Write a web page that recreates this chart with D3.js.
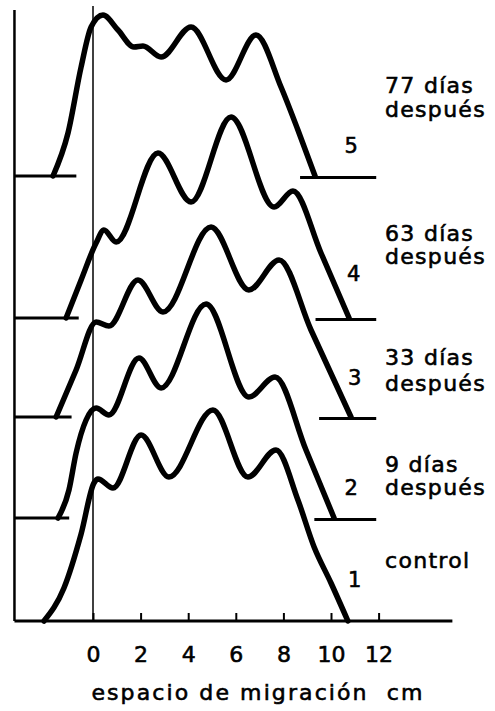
<!DOCTYPE html>
<html>
<head>
<meta charset="utf-8">
<title>espacio de migración</title>
<style>
  body { margin: 0; background: #fff; }
  svg text { font-family: "DejaVu Sans", sans-serif; fill: #000; stroke: #000; stroke-width: 0.6px; }
  .curve { fill: none; stroke: #000; stroke-width: 5.5; stroke-linejoin: round; stroke-linecap: round; }
  .base { stroke: #000; stroke-width: 3; }
  .tick text { font-size: 22px; }
</style>
</head>
<body>
<div id="chart"></div>
<script src="https://cdn.jsdelivr.net/npm/d3@7"></script>
<script>
(function (d3) {
  'use strict';

  // curve ids, bottom to top
  var curveIds = ['1', '2', '3', '4', '5'];
  var curveNames = [['control'], ['9 días', 'después'], ['33 días', 'después'],
                    ['63 días', 'después'], ['77 días', 'después']];
  // baseline offset of each trace (arbitrary intensity units)
  var offsets = [0, 103, 204, 303, 445];
  // where the short baseline stubs end / start (cm)
  var stubLeftEnd = [null, -1.0, -0.9, -0.6, -0.7];
  var stubRightStart = [null, 9.3, 9.5, 9.35, 8.7];
  var stubRightEnd = 11.9;

  // densitometer traces: [cm, intensity above own baseline]
  var control = [[-2.06, 0], [-1.22, 33], [-0.5, 87], [0.04, 138], [0.21, 142], [0.84, 133],
    [2.02, 186], [3.19, 144], [5.04, 211], [6.51, 144], [7.69, 171], [8.61, 121],
    [9.29, 74], [10.0, 38], [10.71, 0]];
  var d9 = [[-1.47, 0], [-1.01, 28], [-0.71, 65], [-0.29, 98], [0.13, 110], [0.67, 103],
    [1.93, 160], [2.86, 130], [4.75, 214], [6.55, 121], [7.65, 141], [8.95, 68], [10.13, 0]];
  var d33 = [[-1.55, 0], [-0.71, 47], [0.13, 95], [0.67, 91], [1.89, 137], [2.94, 105],
    [4.96, 190], [6.55, 127], [7.82, 157], [9.16, 87], [10.84, 0]];
  var d63 = [[-1.13, 0], [-0.5, 38], [0.13, 75], [0.46, 88], [0.97, 76], [2.73, 165],
    [4.12, 116], [5.8, 201], [7.61, 111], [8.4, 127], [9.58, 65], [10.76, 0]];
  var d77 = [[-1.68, 0], [-1.05, 43], [-0.5, 109], [-0.08, 149], [0.42, 161], [1.05, 146],
    [1.72, 129], [2.1, 130], [2.86, 119], [4.12, 149], [5.59, 96], [6.85, 141],
    [7.9, 89], [8.61, 46], [9.33, 0]];
  var traces = [control, d9, d33, d63, d77];

  var tickValues = [0, 2, 4, 6, 8, 10, 12];
  var axisTitle = 'espacio de migración  cm';

  var width = 495, height = 711;

  var x = d3.scaleLinear().domain([0, 10]).range([93, 331]);
  var y = d3.scaleLinear().domain([0, 615]).range([621, 6]);
  var xMin = -3.3, xMax = 15.1;

  var svg = d3.select('#chart').append('svg')
    .attr('width', width)
    .attr('height', height);

  // left frame line
  svg.append('line')
    .attr('x1', x(xMin)).attr('x2', x(xMin))
    .attr('y1', y(611)).attr('y2', y(0))
    .attr('stroke', '#000').attr('stroke-width', 2.5);

  // zero line
  svg.append('line')
    .attr('x1', x(0)).attr('x2', x(0))
    .attr('y1', y(615)).attr('y2', y(0))
    .attr('stroke', '#000').attr('stroke-width', 1.5);

  // axis
  var axis = d3.axisBottom(x)
    .tickValues(tickValues)
    .tickSizeInner(-8)
    .tickSizeOuter(0)
    .tickPadding(25)
    .tickFormat(d3.format('d'));

  var gAxis = svg.append('g')
    .attr('transform', 'translate(0,' + y(0) + ')')
    .call(axis);
  gAxis.select('.domain').remove();
  gAxis.selectAll('.tick line').attr('stroke-width', 2);

  svg.append('line')
    .attr('x1', x(xMin)).attr('x2', x(xMax))
    .attr('y1', y(0)).attr('y2', y(0))
    .attr('stroke', '#000').attr('stroke-width', 3);

  svg.append('text')
    .attr('x', 258)
    .attr('y', 700)
    .attr('text-anchor', 'middle')
    .style('font-size', '22px')
    .style('letter-spacing', '2.1px')
    .style('white-space', 'pre')
    .text(axisTitle);

  // baseline stubs
  offsets.forEach(function (off, i) {
    if (stubLeftEnd[i] === null) return;
    svg.append('line').attr('class', 'base')
      .attr('x1', x(xMin)).attr('x2', x(stubLeftEnd[i]))
      .attr('y1', y(off)).attr('y2', y(off));
    svg.append('line').attr('class', 'base')
      .attr('x1', x(stubRightStart[i])).attr('x2', x(stubRightEnd))
      .attr('y1', y(off - 1.5)).attr('y2', y(off - 1.5));
  });

  var line = d3.line()
    .x(function (d) { return x(d[0]); })
    .y(function (d) { return y(d[1]); })
    .curve(d3.curveMonotoneX);

  svg.selectAll('path.curve')
    .data(traces)
    .enter()
    .append('path')
    .attr('class', 'curve')
    .attr('d', function (d, i) {
      return line(d.map(function (p) { return [p[0], p[1] + offsets[i]]; }));
    });

  // labels
  var numPos = [[11.0, 34], [10.85, 23], [11.0, 32], [10.95, 37], [10.85, 23]];
  var namePos = [[53], [46, 23], [52, 26], [77, 54], [83, 59]];

  curveIds.forEach(function (id, i) {
    svg.append('text')
      .attr('x', x(numPos[i][0]))
      .attr('y', y(offsets[i] + numPos[i][1]))
      .attr('text-anchor', 'middle')
      .style('font-size', '21px')
      .text(id);
    curveNames[i].forEach(function (t, j) {
      svg.append('text')
        .attr('x', 385)
        .attr('y', y(offsets[i] + namePos[i][j]))
        .style('font-size', '22px')
        .style('letter-spacing', '1.3px')
        .text(t);
    });
  });
})(window.d3);
</script>
</body>
</html>
